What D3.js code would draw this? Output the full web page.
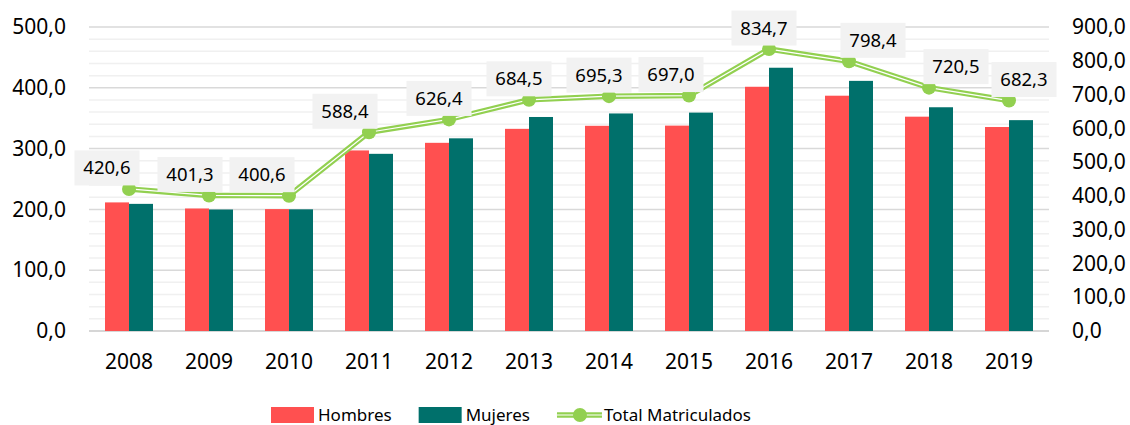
<!DOCTYPE html>
<html>
<head>
<meta charset="utf-8">
<script src="https://cdn.jsdelivr.net/npm/d3@7"></script>
<style>
  html, body { margin: 0; padding: 0; background: #fff; }
  svg { display: block; font-family: "Noto Sans", sans-serif; }
</style>
</head>
<body>
<div id="chart"></div>
<script>
// Data
const years = ["2008", "2009", "2010", "2011", "2012", "2013", "2014", "2015", "2016", "2017", "2018", "2019"];
const hombres = [211.5, 201.5, 200.5, 297.0, 309.5, 332.5, 337.5, 337.8, 401.7, 387.0, 352.5, 335.5];
const mujeres = [209.1, 199.8, 200.1, 291.4, 316.9, 352.0, 357.8, 359.2, 433.0, 411.4, 368.0, 346.8];
const total = [420.6, 401.3, 400.6, 588.4, 626.4, 684.5, 695.3, 697.0, 834.7, 798.4, 720.5, 682.3];
const leftTicks = [0, 100, 200, 300, 400, 500];
const rightTicks = [0, 100, 200, 300, 400, 500, 600, 700, 800, 900];

// manual nudges of the value labels (they were dragged by hand in the original)
const labelShiftX = [-22, -19, -27, -24, -10, -10, -10, -18, -5, 24, 27, 15];

const width = 1130, height = 425;
const margin = { top: 27, right: 81, bottom: 94, left: 89 };
const innerW = width - margin.left - margin.right;
const innerH = height - margin.top - margin.bottom;

const colors = { hombres: "#FF5050", mujeres: "#00706B", total: "#92D050" };
const fmt = v => d3.format(".1f")(v).replace(".", ",");

const svg = d3.select("#chart").append("svg")
  .attr("width", width)
  .attr("height", height);

const g = svg.append("g").attr("transform", `translate(${margin.left},${margin.top})`);

// Scales
const x = d3.scaleBand().domain(years).range([0, innerW]).paddingInner(0.4).paddingOuter(0.2);
const x1 = d3.scaleBand().domain(["hombres", "mujeres"]).range([0, x.bandwidth()]);
const yL = d3.scaleLinear().domain([0, 500]).range([innerH, 0]);
const yR = d3.scaleLinear().domain([0, 900]).range([innerH, 0]);

// Gridlines: minor every 20, major every 100
g.append("g").selectAll("line")
  .data(d3.range(20, 500, 20).filter(v => v % 100 !== 0))
  .join("line")
  .attr("x1", 0).attr("x2", innerW)
  .attr("y1", d => yL(d)).attr("y2", d => yL(d))
  .attr("stroke", "#f0f0f0").attr("stroke-width", 1.5);

g.append("g").selectAll("line")
  .data(leftTicks.filter(v => v > 0))
  .join("line")
  .attr("x1", 0).attr("x2", innerW)
  .attr("y1", d => yL(d)).attr("y2", d => yL(d))
  .attr("stroke", "#d9d9d9").attr("stroke-width", 1.5);

// Left axis
const axL = g.append("g")
  .call(d3.axisLeft(yL).tickValues(leftTicks).tickFormat(fmt).tickSize(0).tickPadding(23));
axL.select(".domain").remove();
axL.selectAll("text").attr("font-size", 21).attr("fill", "#000").attr("font-family", "Noto Sans");

// Right axis
const axR = g.append("g")
  .attr("transform", `translate(${innerW},0)`)
  .call(d3.axisRight(yR).tickValues(rightTicks).tickFormat(fmt).tickSize(0).tickPadding(23));
axR.select(".domain").remove();
axR.selectAll("text").attr("font-size", 21).attr("fill", "#000").attr("font-family", "Noto Sans");

// X axis
const axX = g.append("g")
  .attr("transform", `translate(0,${innerH})`)
  .call(d3.axisBottom(x).tickSize(0).tickPadding(23));
axX.select(".domain").attr("stroke", "#c8c8c8").attr("stroke-width", 1.5)
  .attr("d", `M0,0H${innerW}`);
axX.selectAll("text").attr("font-size", 21).attr("fill", "#000").attr("font-family", "Noto Sans");

// Bars
const rows = years.map((yr, i) => ({ year: yr, hombres: hombres[i], mujeres: mujeres[i] }));
const groups = g.append("g").selectAll("g")
  .data(rows)
  .join("g")
  .attr("transform", d => `translate(${x(d.year)},0)`);

groups.selectAll("rect")
  .data(d => ["hombres", "mujeres"].map(k => ({ key: k, value: d[k] })))
  .join("rect")
  .attr("x", d => x1(d.key))
  .attr("y", d => yL(d.value))
  .attr("width", x1.bandwidth())
  .attr("height", d => innerH - yL(d.value))
  .attr("fill", d => colors[d.key]);

// Total line (double-stroke look)
const pts = years.map((yr, i) => ({ year: yr, value: total[i], i: i }));
const line = d3.line()
  .x(d => x(d.year) + x.bandwidth() / 2)
  .y(d => yR(d.value));

g.append("path").datum(pts)
  .attr("d", line)
  .attr("fill", "none")
  .attr("stroke", colors.total)
  .attr("stroke-width", 5.5)
  .attr("stroke-linejoin", "round");
g.append("path").datum(pts)
  .attr("d", line)
  .attr("fill", "none")
  .attr("stroke", "#fff")
  .attr("stroke-width", 1.2)
  .attr("stroke-linejoin", "round");

g.append("g").selectAll("circle")
  .data(pts)
  .join("circle")
  .attr("cx", d => x(d.year) + x.bandwidth() / 2)
  .attr("cy", d => yR(d.value))
  .attr("r", 7)
  .attr("fill", colors.total);

// Value labels in gray boxes
const labels = g.append("g").selectAll("g")
  .data(pts)
  .join("g")
  .attr("transform", d => `translate(${x(d.year) + x.bandwidth() / 2 + labelShiftX[d.i]},${yR(d.value) - 21})`);

labels.append("rect")
  .attr("x", -32.5).attr("y", -17.5)
  .attr("width", 65).attr("height", 35)
  .attr("fill", "#f2f2f2");

labels.append("text")
  .attr("text-anchor", "middle")
  .attr("dy", "0.35em")
  .attr("font-size", 18.5)
  .attr("fill", "#000")
  .text(d => fmt(d.value));

// Legend
const legend = svg.append("g").attr("transform", "translate(271,415)");
let lx = 0;
const items = [
  { name: "Hombres", type: "rect", color: colors.hombres },
  { name: "Mujeres", type: "rect", color: colors.mujeres },
  { name: "Total Matriculados", type: "line", color: colors.total }
];
items.forEach(it => {
  const item = legend.append("g").attr("transform", `translate(${lx},0)`);
  if (it.type === "rect") {
    item.append("rect")
      .attr("x", 0).attr("y", -8)
      .attr("width", 43).attr("height", 16)
      .attr("fill", it.color);
  } else {
    item.append("line").attr("x1", 0).attr("x2", 45).attr("y1", 0).attr("y2", 0)
      .attr("stroke", it.color).attr("stroke-width", 5.5);
    item.append("line").attr("x1", 0).attr("x2", 45).attr("y1", 0).attr("y2", 0)
      .attr("stroke", "#fff").attr("stroke-width", 1.2);
    item.append("circle").attr("cx", 23).attr("cy", 0).attr("r", 7).attr("fill", it.color);
  }
  const t = item.append("text")
    .attr("x", 47)
    .attr("dy", "0.35em")
    .attr("font-size", 17)
    .attr("fill", "#000")
    .text(it.name);
  lx += 47 + t.node().getComputedTextLength() + 27;
});
</script>
</body>
</html>
